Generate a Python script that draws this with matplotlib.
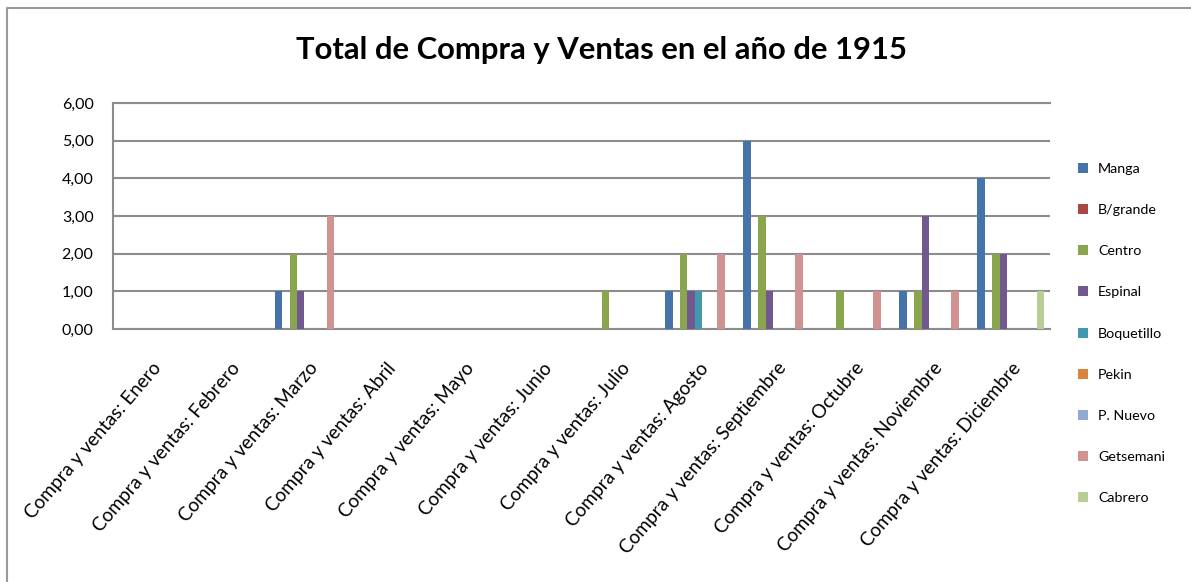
import matplotlib.pyplot as plt
import numpy as np

months = ["Enero", "Febrero", "Marzo", "Abril", "Mayo", "Junio", "Julio",
          "Agosto", "Septiembre", "Octubre", "Noviembre", "Diciembre"]
categories = ["Compra y ventas: " + m for m in months]
series_names = ["Manga", "B/grande", "Centro", "Espinal", "Boquetillo",
                "Pekin", "P. Nuevo", "Getsemani", "Cabrero"]

manga      = [0, 0, 1, 0, 0, 0, 0, 1, 5, 0, 1, 4]
b_grande   = [0, 0, 0, 0, 0, 0, 0, 0, 0, 0, 0, 0]
centro     = [0, 0, 2, 0, 0, 0, 1, 2, 3, 1, 1, 2]
espinal    = [0, 0, 1, 0, 0, 0, 0, 1, 1, 0, 3, 2]
boquetillo = [0, 0, 0, 0, 0, 0, 0, 1, 0, 0, 0, 0]
pekin      = [0, 0, 0, 0, 0, 0, 0, 0, 0, 0, 0, 0]
p_nuevo    = [0, 0, 0, 0, 0, 0, 0, 0, 0, 0, 0, 0]
getsemani  = [0, 0, 3, 0, 0, 0, 0, 2, 2, 1, 1, 0]
cabrero    = [0, 0, 0, 0, 0, 0, 0, 0, 0, 0, 0, 1]

series = [manga, b_grande, centro, espinal, boquetillo, pekin, p_nuevo, getsemani, cabrero]
colors = ["#4673AA", "#AA4643", "#89A54E", "#71588F", "#4198AF",
          "#DB843D", "#93A9CF", "#D19392", "#B9CD96"]

plt.rcParams['font.family'] = ['Lato', 'DejaVu Sans']

fig = plt.figure(figsize=(11.91, 5.82), dpi=100)
ax = fig.add_axes([113 / 1191, 1 - 329 / 582, (1050 - 113) / 1191, (329 - 103) / 582])

# outer chart border (left and top visible)
fig.add_artist(plt.Line2D([7 / 1191, 7 / 1191, 1], [0, 1 - 8 / 582, 1 - 8 / 582],
                          transform=fig.transFigure, color="#9a9a9a", lw=1.5))

x = np.arange(len(categories))
w = 1 / 10.5
for i, (vals, name, c) in enumerate(zip(series, series_names, colors)):
    ax.bar(x + (i - 4) * w, vals, width=w, color=c, label=name, zorder=3)

ax.set_xlim(-0.5, len(categories) - 0.5)
ax.set_ylim(0, 6)
ax.set_yticks(range(7))
ax.set_yticklabels([f"{v:.2f}".replace(".", ",") for v in range(7)], fontsize=11.5)
ax.yaxis.grid(True, color="#8c8c8c", lw=1.5, zorder=0)
ax.tick_params(axis="y", length=0, pad=14)
ax.tick_params(axis="x", length=0, pad=22)
ax.set_xticks(x)
ax.set_xticklabels(categories, rotation=49.5, ha="right", va="top",
                   rotation_mode="anchor", fontsize=13.7)
for s in ax.spines.values():
    s.set_color("#8c8c8c")
    s.set_linewidth(1.5)
ax.spines["right"].set_visible(False)

fig.text(0.505, 1 - 50 / 582, "Total de Compra y Ventas en el año de 1915",
         ha="center", va="center", fontsize=22.3, fontweight="bold")

ax.legend(loc="upper left", bbox_to_anchor=(1065 / 1191, 1 - 150 / 582),
          bbox_transform=fig.transFigure, frameon=False, fontsize=10.3,
          handlelength=0.7, handleheight=0.7, handletextpad=0.7,
          labelspacing=2.04)

fig.savefig("out.png", dpi=100)
